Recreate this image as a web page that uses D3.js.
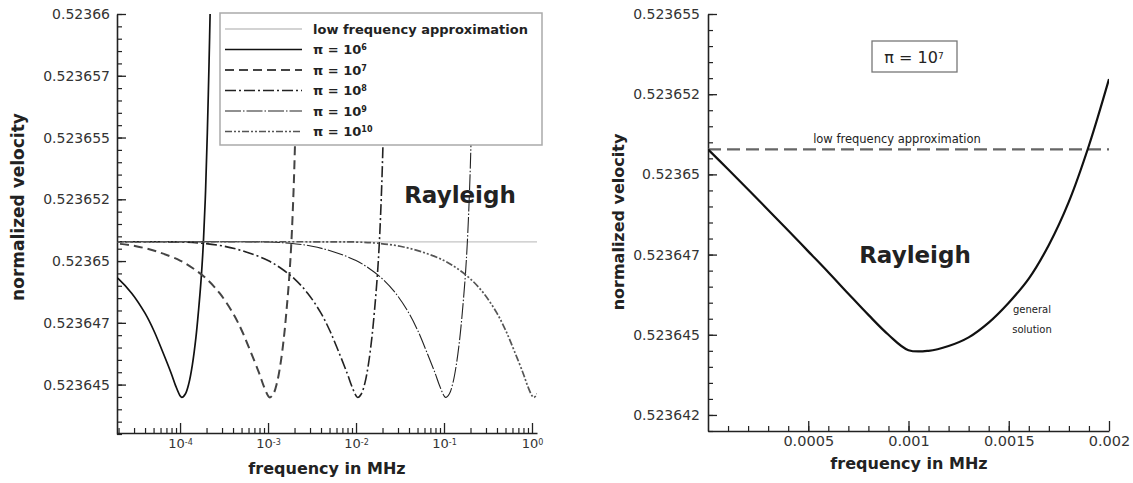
<!DOCTYPE html>
<html><head><meta charset="utf-8">
<script src="https://cdn.jsdelivr.net/npm/d3@7"></script>
<style>
body{margin:0;background:#fff}
svg{display:block}
text{font-family:"DejaVu Sans",sans-serif}
</style>
</head><body>
<svg id="c" width="1133" height="483"></svg>
<script>
// ---------------- DATA ----------------
const lowFreqApprox = 0.52365078;

const pi6Freq = [1.413e-5, 1.995e-5, 2.818e-5, 3.981e-5, 5.012e-5, 6.31e-5, 7.943e-5, 8.913e-5, 1e-4, 1.047e-4, 1.148e-4, 1.259e-4, 1.38e-4, 1.514e-4, 1.622e-4, 1.738e-4, 1.841e-4, 1.95e-4, 2.042e-4, 2.138e-4, 2.213e-4];
const pi6Vel  = [0.5236497, 0.52364928, 0.5236487, 0.5236479, 0.5236472, 0.52364635, 0.52364545, 0.52364495, 0.52364455, 0.52364448, 0.52364462, 0.52364505, 0.5236458, 0.5236469, 0.523648, 0.5236493, 0.52365075, 0.52365285, 0.5236552, 0.5236581, 0.5236606];

const pi7Freq = [1e-5, 1.778e-5, 3.162e-5, 5.623e-5, 1e-4, 1.413e-4, 1.995e-4, 2.818e-4, 3.981e-4, 5.012e-4, 6.31e-4, 7.943e-4, 8.913e-4, 1e-3, 1.047e-3, 1.148e-3, 1.259e-3, 1.38e-3, 1.514e-3, 1.622e-3, 1.738e-3, 1.841e-3, 1.95e-3, 2.042e-3, 2.138e-3, 2.213e-3];
const pi7Vel  = [0.52365077, 0.52365072, 0.5236506, 0.52365037, 0.52365002, 0.5236497, 0.52364928, 0.5236487, 0.5236479, 0.5236472, 0.52364635, 0.52364545, 0.52364495, 0.52364455, 0.52364448, 0.52364462, 0.52364505, 0.5236458, 0.5236469, 0.523648, 0.5236493, 0.52365075, 0.52365285, 0.5236552, 0.5236581, 0.5236606];

const pi8Freq = [1e-5, 3.162e-5, 1e-4, 1.778e-4, 3.162e-4, 5.623e-4, 1e-3, 1.413e-3, 1.995e-3, 2.818e-3, 3.981e-3, 5.012e-3, 6.31e-3, 7.943e-3, 8.913e-3, 1e-2, 1.047e-2, 1.148e-2, 1.259e-2, 1.38e-2, 1.514e-2, 1.622e-2, 1.738e-2, 1.841e-2, 1.95e-2, 2.042e-2, 2.138e-2, 2.213e-2];
const pi8Vel  = [0.52365078, 0.52365078, 0.52365077, 0.52365072, 0.5236506, 0.52365037, 0.52365002, 0.5236497, 0.52364928, 0.5236487, 0.5236479, 0.5236472, 0.52364635, 0.52364545, 0.52364495, 0.52364455, 0.52364448, 0.52364462, 0.52364505, 0.5236458, 0.5236469, 0.523648, 0.5236493, 0.52365075, 0.52365285, 0.5236552, 0.5236581, 0.5236606];

const pi9Freq = [1e-5, 3.162e-4, 1e-3, 1.778e-3, 3.162e-3, 5.623e-3, 1e-2, 1.413e-2, 1.995e-2, 2.818e-2, 3.981e-2, 5.012e-2, 6.31e-2, 7.943e-2, 8.913e-2, 0.1, 0.1047, 0.1148, 0.1259, 0.138, 0.1514, 0.1622, 0.1738, 0.1841, 0.195, 0.2042, 0.2138, 0.2213];
const pi9Vel  = [0.52365078, 0.52365078, 0.52365077, 0.52365072, 0.5236506, 0.52365037, 0.52365002, 0.5236497, 0.52364928, 0.5236487, 0.5236479, 0.5236472, 0.52364635, 0.52364545, 0.52364495, 0.52364455, 0.52364448, 0.52364462, 0.52364505, 0.5236458, 0.5236469, 0.523648, 0.5236493, 0.52365075, 0.52365285, 0.5236552, 0.5236581, 0.5236606];

const pi10Freq = [1e-5, 3.162e-3, 1e-2, 1.778e-2, 3.162e-2, 5.623e-2, 0.1, 0.1413, 0.1995, 0.2818, 0.3981, 0.5012, 0.631, 0.7943, 0.8913, 1.0, 1.047, 1.148, 1.259];
const pi10Vel  = [0.52365078, 0.52365078, 0.52365077, 0.52365072, 0.5236506, 0.52365037, 0.52365002, 0.5236497, 0.52364928, 0.5236487, 0.5236479, 0.5236472, 0.52364635, 0.52364545, 0.52364495, 0.52364455, 0.52364448, 0.52364462, 0.52364505];

const seriesExponents = ["6", "7", "8", "9", "10"];
const lowFreqLabel = "low frequency approximation";

const rightFreq = [0, 0.0001, 0.0002, 0.0003, 0.0004, 0.0005, 0.0006, 0.0007, 0.0008, 0.0009, 0.001, 0.0011, 0.0012, 0.0013, 0.0014, 0.0015, 0.0016, 0.0017, 0.0018, 0.0019, 0.002];
const rightVel  = [0.52365078, 0.52365016, 0.52364953, 0.52364889, 0.52364825, 0.5236476, 0.52364695, 0.52364628, 0.52364562, 0.523645, 0.52364452, 0.5236445, 0.52364465, 0.52364492, 0.52364538, 0.523646, 0.52364675, 0.5236478, 0.52364915, 0.5236509, 0.52365297];

const leftYTickValues = [0.52366, 0.5236575, 0.523655, 0.5236525, 0.52365, 0.5236475, 0.523645];
const leftYTickLabels = ["0.52366", "0.523657", "0.523655", "0.523652", "0.52365", "0.523647", "0.523645"];
const rightYTickValues = [0.523655, 0.5236525, 0.52365, 0.5236475, 0.523645, 0.5236425];
const rightYTickLabels = ["0.523655", "0.523652", "0.52365", "0.523647", "0.523645", "0.523642"];
const leftXTickValues = [1e-4, 1e-3, 1e-2, 1e-1, 1];
const leftXTickExps = ["-4", "-3", "-2", "-1", "0"];
const rightXTickValues = [0.0005, 0.001, 0.0015, 0.002];
const rightXTickLabels = ["0.0005", "0.001", "0.0015", "0.002"];

// ---------------- DRAW ----------------
const svg = d3.select("#c");

const xL = d3.scaleLog().domain([1.92e-5, 1.14]).range([117, 537]);
const yL = d3.scaleLinear().domain([0.523643, 0.52366]).range([434, 14]);
const xR = d3.scaleLinear().domain([0, 0.002]).range([708, 1109]);
const yR = d3.scaleLinear().domain([0.523642, 0.523655]).range([431, 14]);

const defs = svg.append("defs");
defs.append("clipPath").attr("id", "clipL").append("rect")
  .attr("x", xL.range()[0]).attr("y", yL.range()[1])
  .attr("width", xL.range()[1] - xL.range()[0]).attr("height", yL.range()[0] - yL.range()[1]);
defs.append("clipPath").attr("id", "clipR").append("rect")
  .attr("x", xR.range()[0]).attr("y", yR.range()[1])
  .attr("width", xR.range()[1] - xR.range()[0]).attr("height", yR.range()[0] - yR.range()[1]);

function styleAxis(g, fs) {
  g.select(".domain").attr("stroke", "#222").attr("stroke-width", 1.6);
  g.selectAll(".tick line").attr("stroke", "#222").attr("stroke-width", 1.3);
  g.selectAll(".tick text").attr("fill", "#333").attr("font-size", fs).attr("font-family", "DejaVu Sans");
}

// ---- Left minor ticks
const leftYMinor = d3.range(0, 35).map(i => 0.523643 + i * 0.5e-6).filter(v => v <= 0.52366 + 1e-12);
svg.append("g").attr("transform", `translate(${xL.range()[0]},0)`)
  .call(d3.axisLeft(yL).tickValues(leftYMinor).tickSize(-5).tickSizeOuter(0).tickFormat(""))
  .call(g => { g.select(".domain").remove(); g.selectAll("line").attr("stroke", "#222").attr("stroke-width", 1.2); });
const leftXMinor = [];
[1e-5, 1e-4, 1e-3, 1e-2, 1e-1].forEach(d => { for (let k = 2; k <= 9; k++) { const v = d * k; if (v >= 1.92e-5 && v <= 1.14) leftXMinor.push(v); } });
svg.append("g").attr("transform", `translate(0,${yL.range()[0] - 1})`)
  .call(d3.axisBottom(xL).tickValues(leftXMinor).tickSize(-5).tickSizeOuter(0).tickFormat(""))
  .call(g => { g.select(".domain").remove(); g.selectAll("line").attr("stroke", "#222").attr("stroke-width", 1.2); });

// ---- Left axes
svg.append("g").attr("transform", `translate(${xL.range()[0]},0)`)
  .call(d3.axisLeft(yL).tickValues(leftYTickValues).tickSize(-9).tickSizeOuter(0).tickPadding(7)
    .tickFormat((d, i) => leftYTickLabels[i]))
  .call(g => styleAxis(g, 14));
const gxL = svg.append("g").attr("transform", `translate(0,${yL.range()[0] - 1})`)
  .call(d3.axisBottom(xL).tickValues(leftXTickValues).tickSize(-10).tickSizeOuter(0).tickPadding(6).tickFormat(() => ""))
  .call(g => styleAxis(g, 13));
gxL.selectAll(".tick text").each(function (d, i) {
  const t = d3.select(this);
  t.append("tspan").text("10");
  t.append("tspan").attr("dy", "-0.45em").attr("font-size", 8).text(leftXTickExps[i]);
});

// ---- Left curves
const gCurvesL = svg.append("g").attr("clip-path", "url(#clipL)");
gCurvesL.append("line")
  .attr("x1", xL.range()[0]).attr("x2", xL.range()[1])
  .attr("y1", yL(lowFreqApprox)).attr("y2", yL(lowFreqApprox))
  .attr("stroke", "#c4c4c4").attr("stroke-width", 1.2);

const lineStyles = [
  { stroke: "#111", width: 1.7, dash: null },
  { stroke: "#444", width: 2, dash: "9,5" },
  { stroke: "#222", width: 1.6, dash: "11,3,2,3" },
  { stroke: "#222", width: 1.1, dash: "16,2,1.5,2" },
  { stroke: "#555", width: 1.7, dash: "7,2,2,2,2,2" }
];
const leftSeries = [[pi6Freq, pi6Vel], [pi7Freq, pi7Vel], [pi8Freq, pi8Vel], [pi9Freq, pi9Vel], [pi10Freq, pi10Vel]];
const lineL = d3.line().x(d => xL(d[0])).y(d => yL(d[1])).curve(d3.curveCatmullRom.alpha(0.5));
leftSeries.forEach((s, i) => {
  const pts = s[0].map((f, j) => [f, s[1][j]]);
  gCurvesL.append("path").datum(pts).attr("d", lineL)
    .attr("fill", "none").attr("stroke", lineStyles[i].stroke)
    .attr("stroke-width", lineStyles[i].width)
    .attr("stroke-dasharray", lineStyles[i].dash);
});

// ---- Legend
const lg = svg.append("g");
lg.append("rect").attr("x", 220).attr("y", 13).attr("width", 322).attr("height", 132)
  .attr("fill", "#fff").attr("stroke", "#aaa").attr("stroke-width", 1.5);
const rowY = i => 29 + i * 20.5;
lg.append("line").attr("x1", 225).attr("x2", 302).attr("y1", rowY(0)).attr("y2", rowY(0))
  .attr("stroke", "#c4c4c4").attr("stroke-width", 1.5);
lg.append("text").attr("x", 313).attr("y", rowY(0) + 4.5).attr("font-size", 13).attr("font-weight", "bold")
  .attr("fill", "#222").text(lowFreqLabel);
seriesExponents.forEach((e, i) => {
  const y = rowY(i + 1);
  lg.append("line").attr("x1", 225).attr("x2", 302).attr("y1", y).attr("y2", y)
    .attr("stroke", lineStyles[i].stroke).attr("stroke-width", lineStyles[i].width)
    .attr("stroke-dasharray", lineStyles[i].dash);
  const t = lg.append("text").attr("x", 313).attr("y", y + 4.5).attr("font-size", 13).attr("font-weight", "bold").attr("fill", "#222");
  t.append("tspan").text("π = 10");
  t.append("tspan").attr("dy", "-0.45em").attr("font-size", 8).text(e);
});

// ---- Left annotations
svg.append("text").attr("x", 460).attr("y", 203).attr("text-anchor", "middle")
  .attr("font-size", 23).attr("font-weight", "bold").attr("fill", "#222").text("Rayleigh");
svg.append("text").attr("x", 327).attr("y", 474).attr("text-anchor", "middle")
  .attr("font-size", 16).attr("font-weight", "bold").attr("fill", "#222").text("frequency in MHz");
svg.append("text").attr("transform", "translate(24,207) rotate(-90)").attr("text-anchor", "middle")
  .attr("font-size", 17).attr("font-weight", "bold").attr("fill", "#222").text("normalized velocity");

// ---- Right minor ticks
const rightYMinor = d3.range(0, 27).map(i => 0.523642 + i * 0.5e-6).filter(v => v <= 0.523655 + 1e-12);
svg.append("g").attr("transform", `translate(${xR.range()[0]},0)`)
  .call(d3.axisLeft(yR).tickValues(rightYMinor).tickSize(-5).tickSizeOuter(0).tickFormat(""))
  .call(g => { g.select(".domain").remove(); g.selectAll("line").attr("stroke", "#222").attr("stroke-width", 1.2); });
const rightXMinor = d3.range(1, 20).map(i => i * 0.0001);
svg.append("g").attr("transform", `translate(0,${yR.range()[0]})`)
  .call(d3.axisBottom(xR).tickValues(rightXMinor).tickSize(-5).tickSizeOuter(0).tickFormat(""))
  .call(g => { g.select(".domain").remove(); g.selectAll("line").attr("stroke", "#222").attr("stroke-width", 1.2); });

// ---- Right axes
svg.append("g").attr("transform", `translate(${xR.range()[0]},0)`)
  .call(d3.axisLeft(yR).tickValues(rightYTickValues).tickSize(-9).tickSizeOuter(0).tickPadding(8)
    .tickFormat((d, i) => rightYTickLabels[i]))
  .call(g => styleAxis(g, 14));
svg.append("g").attr("transform", `translate(0,${yR.range()[0]})`)
  .call(d3.axisBottom(xR).tickValues(rightXTickValues).tickSize(-10).tickSizeOuter(0).tickPadding(5)
    .tickFormat((d, i) => rightXTickLabels[i]))
  .call(g => styleAxis(g, 14.5));

// ---- Right curves
const gCurvesR = svg.append("g").attr("clip-path", "url(#clipR)");
gCurvesR.append("line")
  .attr("x1", xR.range()[0]).attr("x2", xR.range()[1])
  .attr("y1", yR(lowFreqApprox)).attr("y2", yR(lowFreqApprox))
  .attr("stroke", "#666").attr("stroke-width", 2.2).attr("stroke-dasharray", "13,6");
const lineR = d3.line().x(d => xR(d[0])).y(d => yR(d[1])).curve(d3.curveCatmullRom.alpha(0.5));
gCurvesR.append("path").datum(rightFreq.map((f, i) => [f, rightVel[i]])).attr("d", lineR)
  .attr("fill", "none").attr("stroke", "#111").attr("stroke-width", 2.2);

// ---- Right annotations
svg.append("text").attr("x", 897).attr("y", 143).attr("text-anchor", "middle")
  .attr("font-size", 11.5).attr("fill", "#222").text(lowFreqLabel);
svg.append("rect").attr("x", 872).attr("y", 41).attr("width", 85).attr("height", 31)
  .attr("fill", "#fff").attr("stroke", "#777").attr("stroke-width", 1.3);
const bt = svg.append("text").attr("x", 914).attr("y", 63).attr("text-anchor", "middle")
  .attr("font-size", 16).attr("fill", "#222");
bt.append("tspan").text("π = 10");
bt.append("tspan").attr("dy", "-0.45em").attr("font-size", 9).text("7");
svg.append("text").attr("x", 915).attr("y", 263).attr("text-anchor", "middle")
  .attr("font-size", 23).attr("font-weight", "bold").attr("fill", "#222").text("Rayleigh");
svg.append("text").attr("x", 1032).attr("y", 313).attr("text-anchor", "middle")
  .attr("font-size", 10).attr("fill", "#222").text("general");
svg.append("text").attr("x", 1032).attr("y", 333).attr("text-anchor", "middle")
  .attr("font-size", 10).attr("fill", "#222").text("solution");
svg.append("text").attr("x", 909).attr("y", 469).attr("text-anchor", "middle")
  .attr("font-size", 16).attr("font-weight", "bold").attr("fill", "#222").text("frequency in MHz");
svg.append("text").attr("transform", "translate(624,222) rotate(-90)").attr("text-anchor", "middle")
  .attr("font-size", 16).attr("font-weight", "bold").attr("fill", "#222").text("normalized velocity");
</script>
</body></html>
